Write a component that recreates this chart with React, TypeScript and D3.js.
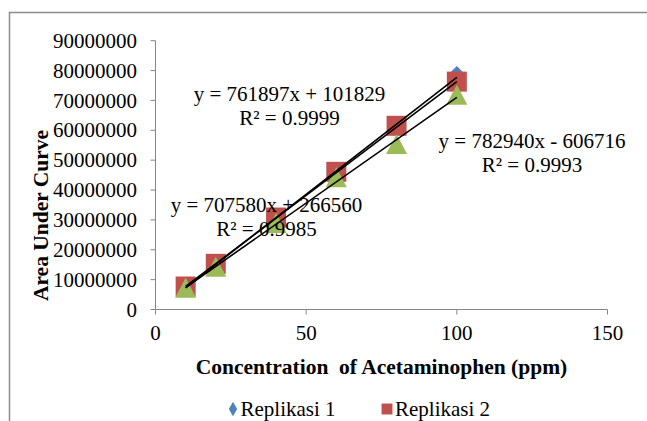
import React from "react";
import * as d3 from "d3";

const concentrations = [10, 20, 40, 60, 80, 100];
const replikasi1 = [7400000, 15900000, 30400000, 46000000, 61900000, 79000000];
const replikasi2 = [7700000, 15300000, 30800000, 46100000, 61500000, 76300000];
const replikasi3 = [7300000, 14300000, 29000000, 44300000, 55400000, 71900000];

const seriesNames = ["Replikasi 1", "Replikasi 2", "Replikasi 3"];
const seriesColors = ["#4F81BD", "#C0504D", "#9BBB59"];

// trendline coefficients (slope, intercept) per series
const trendSlopes = [782940, 761897, 707580];
const trendIntercepts = [-606716, 101829, 266560];
const trendEquations = ["y = 782940x - 606716", "y = 761897x + 101829", "y = 707580x + 266560"];
const trendR2 = ["R² = 0.9993", "R² = 0.9999", "R² = 0.9985"];

const xTicks = [0, 50, 100, 150];
const yTicks = [0, 10000000, 20000000, 30000000, 40000000, 50000000, 60000000, 70000000, 80000000, 90000000];

const W = 647;
const H = 421;
const FONT = "'Liberation Serif', 'Times New Roman', serif";
const FS = 21;

function markerPath(i: number): string {
  if (i === 0) {
    const r = 7.5;
    return `M0,${-r}L${r},0L0,${r}L${-r},0Z`;
  }
  if (i === 1) {
    const s = 10;
    return `M${-s},${-s}H${s}V${s}H${-s}Z`;
  }
  const w = 10.5;
  const h = 10;
  return `M0,${-h}L${w},${h}L${-w},${h}Z`;
}

export default function App() {
  const x = d3.scaleLinear().domain([0, 150]).range([155.5, 607.5]);
  const y = d3.scaleLinear().domain([0, 90000000]).range([309.5, 40.7]);
  const data = [replikasi1, replikasi2, replikasi3];

  const labelPos = [
    { cx: 532, by: 148 },
    { cx: 289.5, by: 101 },
    { cx: 266.5, by: 212 },
  ];

  return (
    <svg width={W} height={H} style={{ position: "absolute", left: 0, top: 0, background: "#fff" }} fontFamily={FONT}>
      <rect x={0} y={0} width={W} height={H} fill="#fff" />
      {/* outer frame (cropped) */}
      <path d={`M9.5,${H + 5} V12.5 H${W + 5}`} fill="none" stroke="#8c8c8c" strokeWidth={1.5} />

      {/* y axis */}
      <line x1={x(0)} x2={x(0)} y1={y(90000000)} y2={y(0)} stroke="#868686" strokeWidth={1} />
      {yTicks.map((t) => (
        <g key={t}>
          <line x1={x(0) - 5} x2={x(0)} y1={y(t)} y2={y(t)} stroke="#868686" />
          <text x={137} y={y(t)} dy="0.34em" textAnchor="end" fontSize={FS} fill="#000">
            {t}
          </text>
        </g>
      ))}
      {/* x axis */}
      <line x1={x(0)} x2={x(150)} y1={y(0)} y2={y(0)} stroke="#868686" />
      {xTicks.map((t) => (
        <g key={t}>
          <line x1={x(t)} x2={x(t)} y1={y(0)} y2={y(0) + 5} stroke="#868686" />
          <text x={x(t)} y={340} textAnchor="middle" fontSize={FS} fill="#000">
            {t}
          </text>
        </g>
      ))}

      {/* markers */}
      {data.map((vals, si) =>
        vals.map((v, i) => (
          <path
            key={`${si}-${i}`}
            d={markerPath(si)}
            transform={`translate(${x(concentrations[i])},${y(v)})`}
            fill={seriesColors[si]}
          />
        ))
      )}

      {/* trendlines */}
      {trendSlopes.map((m, i) => {
        const x0 = d3.min(concentrations) as number;
        const x1 = d3.max(concentrations) as number;
        return (
          <line
            key={i}
            x1={x(x0)}
            y1={y(m * x0 + trendIntercepts[i])}
            x2={x(x1)}
            y2={y(m * x1 + trendIntercepts[i])}
            stroke="#000"
            strokeWidth={1.6}
          />
        );
      })}

      {/* trendline labels */}
      {labelPos.map((p, i) => (
        <g key={i} fontSize={FS} fill="#000">
          <text x={p.cx} y={p.by} textAnchor="middle">{trendEquations[i]}</text>
          <text x={p.cx} y={p.by + 24} textAnchor="middle">{trendR2[i]}</text>
        </g>
      ))}

      {/* axis titles */}
      <text x={381.5} y={374} textAnchor="middle" fontSize={21.5} fontWeight="bold" fill="#000" style={{ whiteSpace: "pre" }}>
        {"Concentration  of Acetaminophen (ppm)"}
      </text>
      <text
        transform={`translate(47.5,215.5) rotate(-90)`}
        textAnchor="middle"
        fontSize={21.5}
        fontWeight="bold"
        fill="#000"
      >
        Area Under Curve
      </text>

      {/* legend */}
      <path d={d3.symbol(d3.symbolDiamond, 60)() || ""} transform="translate(233,409)" fill={seriesColors[0]} />
      <text x={240.5} y={416} fontSize={FS} fill="#000">{seriesNames[0]}</text>
      <path d={d3.symbol(d3.symbolSquare, 120)() || ""} transform="translate(387,409)" fill={seriesColors[1]} />
      <text x={395} y={416} fontSize={FS} fill="#000">{seriesNames[1]}</text>
    </svg>
  );
}
